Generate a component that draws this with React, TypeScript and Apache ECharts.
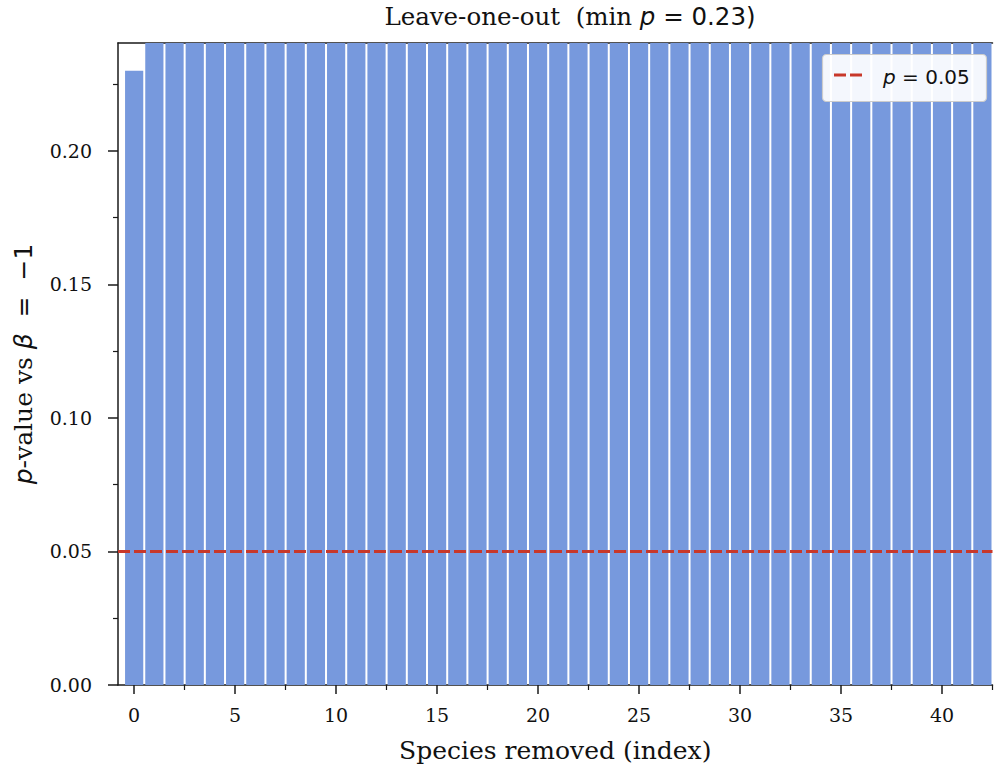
import React, { useEffect, useRef } from "react";
import * as echarts from "echarts";

const speciesIndex = Array.from({ length: 43 }, (_, i) => i);
const pValues = [
  0.23, 0.61, 0.48, 0.72, 0.55, 0.39, 0.66, 0.81, 0.44, 0.58, 0.7, 0.35, 0.62,
  0.51, 0.77, 0.46, 0.69, 0.57, 0.4, 0.74, 0.63, 0.52, 0.85, 0.47, 0.6, 0.68,
  0.42, 0.79, 0.54, 0.65, 0.37, 0.73, 0.5, 0.59, 0.83, 0.45, 0.67, 0.56, 0.71,
  0.43, 0.64, 0.53, 0.76,
];
const xMajorTicks = [0, 5, 10, 15, 20, 25, 30, 35, 40];
const xMinorTicks = [2.5, 7.5, 12.5, 17.5, 22.5, 27.5, 32.5, 37.5, 42.5];
const yMajorTicks = [0, 0.05, 0.1, 0.15, 0.2];
const yMinorTicks = [0.025, 0.075, 0.125, 0.175, 0.225];
const threshold = 0.05;

const SERIF = "DejaVu Serif";
const SANS = "DejaVu Sans";

export default function App() {
  const ref = useRef<HTMLDivElement>(null);
  useEffect(() => {
    const chart = echarts.init(ref.current!, null, { renderer: "svg" });
    const axisColor = "#1a1a1a";
    const mkRich = (size: number) => ({
      s: { fontFamily: SERIF, fontSize: size, color: "#111" },
      i: { fontFamily: SANS, fontStyle: "italic", fontSize: size, color: "#111" },
      m: { fontFamily: SANS, fontSize: size, color: "#111" },
    });
    const option: any = {
      animation: false,
      backgroundColor: "#ffffff",
      title: {
        text: "{s|Leave-one-out  (min }{i|p}{m| = 0.23)}",
        left: 565,
        textAlign: "center",
        top: -1,
        textStyle: { fontWeight: "normal", rich: mkRich(24.5) },
      },
      grid: { left: 118, right: 1.5, top: 43, bottom: 82, containLabel: false },
      xAxis: [
        {
          type: "value",
          min: -0.8,
          max: 42.5,
          position: "bottom",
          name: "Species removed (index)",
          nameLocation: "middle",
          nameGap: 53,
          nameTextStyle: { fontFamily: SERIF, fontSize: 25, color: "#111" },
          axisLine: { show: true, onZero: false, lineStyle: { color: axisColor, width: 1.5 } },
          axisTick: { show: true, length: 9, customValues: xMajorTicks, lineStyle: { color: axisColor, width: 1.5 } },
          axisLabel: {
            customValues: xMajorTicks,
            fontFamily: SERIF,
            fontSize: 19,
            color: "#111",
            margin: 20,
          },
          splitLine: { show: false },
        },
        {
          type: "value",
          min: -0.8,
          max: 42.5,
          position: "bottom",
          gridIndex: 0,
          axisLine: { show: false, onZero: false },
          axisTick: { show: true, length: 5, customValues: xMinorTicks, lineStyle: { color: axisColor, width: 1.2 } },
          axisLabel: { show: false, customValues: xMinorTicks },
          splitLine: { show: false },
        },
        {
          type: "value",
          min: -0.8,
          max: 42.5,
          position: "top",
          gridIndex: 0,
          axisLine: { show: true, onZero: false, lineStyle: { color: axisColor, width: 1.5 } },
          axisTick: { show: false },
          axisLabel: { show: false },
          splitLine: { show: false },
        },
      ],
      yAxis: [
        {
          type: "value",
          min: 0,
          max: 0.2404,
          name: "{i|p}{s|-value vs }{i|β}{m|  =  −1}",
          nameLocation: "middle",
          nameGap: 82,
          nameRotate: 90,
          nameTextStyle: { rich: mkRich(25) },
          axisLine: { show: true, onZero: false, lineStyle: { color: axisColor, width: 1.5 } },
          axisTick: { show: true, length: 10, customValues: yMajorTicks, lineStyle: { color: axisColor, width: 1.5 } },
          axisLabel: {
            customValues: yMajorTicks,
            fontFamily: SERIF,
            fontSize: 19,
            color: "#111",
            margin: 26,
            formatter: (v: number) => v.toFixed(2),
          },
          splitLine: { show: false },
        },
        {
          type: "value",
          min: 0,
          max: 0.2404,
          position: "left",
          axisLine: { show: false, onZero: false },
          axisTick: { show: true, length: 5, customValues: yMinorTicks, lineStyle: { color: axisColor, width: 1.2 } },
          axisLabel: { show: false, customValues: yMinorTicks },
          splitLine: { show: false },
        },
      ],
      series: [
        {
          type: "bar",
          xAxisIndex: 0,
          yAxisIndex: 0,
          data: speciesIndex.map((x, i) => [x, pValues[i]]),
          barWidth: 18.2,
          clip: true,
          itemStyle: { color: "#7799dd" },
          markLine: {
            silent: true,
            symbol: ["none", "none"],
            label: { show: false },
            lineStyle: { color: "#c8382a", width: 2.8, type: [12, 4] },
            data: [{ yAxis: threshold }],
          },
        },
      ],
      graphic: [
        {
          type: "rect",
          shape: { x: 822.5, y: 54.5, width: 164, height: 47, r: 4 },
          style: { fill: "rgba(255,255,255,0.92)", stroke: "#cccccc", lineWidth: 1.2 },
          z: 10,
        },
        {
          type: "line",
          shape: { x1: 834, y1: 75, x2: 866, y2: 75 },
          style: { stroke: "#c8382a", lineWidth: 2.8, lineDash: [12, 4] },
          z: 11,
        },
        {
          type: "text",
          x: 883,
          y: 76.5,
          z: 11,
          style: {
            text: "{i|p}{m| = 0.05}",
            verticalAlign: "middle",
            rich: {
              i: { fontFamily: SANS, fontStyle: "italic", fontSize: 20, fill: "#111" },
              m: { fontFamily: SANS, fontSize: 20, fill: "#111" },
            },
          },
        },
      ],
    };
    chart.setOption(option);
    return () => chart.dispose();
  }, []);
  return <div ref={ref} style={{ width: 994, height: 768, position: "absolute", left: 0, top: 0 }} />;
}
